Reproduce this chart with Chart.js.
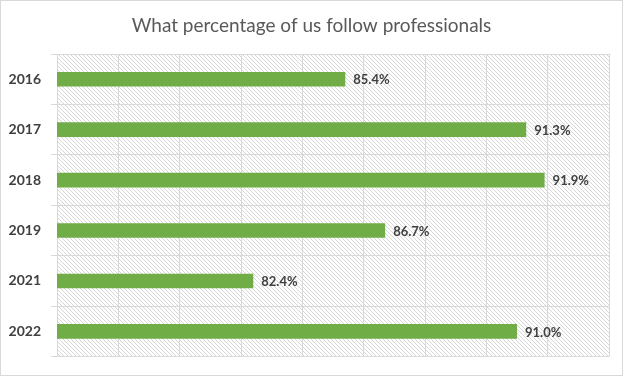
<!DOCTYPE html>
<html lang="en">
<head>
    <meta charset="UTF-8">
    <title>What percentage of us follow professionals</title>
    <style>
        html, body { margin: 0; padding: 0; background: white; }
        #wrap {
            position: relative;
            width: 621px;
            height: 374px;
            border: 1px solid #d9d9d9;
        }
    </style>
</head>
<body>
    <div id="wrap">
        <canvas id="myChart" width="621" height="374"></canvas>
    </div>

    <script src="https://cdn.jsdelivr.net/npm/chart.js"></script>
    <script>
        const years = ['2016', '2017', '2018', '2019', '2021', '2022'];
        const percentages = [85.4, 91.3, 91.9, 86.7, 82.4, 91.0];
        const axisMin = 76;
        const axisMax = 94;
        const axisStep = 2;
        const chartTitle = 'What percentage of us follow professionals';

        // Diagonal hatch used behind the bars
        function makeHatch() {
            const c = document.createElement('canvas');
            c.width = 4;
            c.height = 4;
            const g = c.getContext('2d');
            g.fillStyle = '#ffffff';
            g.fillRect(0, 0, 4, 4);
            g.strokeStyle = '#d6d6d6';
            g.lineWidth = 1;
            g.beginPath();
            g.moveTo(-1, -1); g.lineTo(5, 5);
            g.moveTo(-1, 3); g.lineTo(1, 5);
            g.moveTo(3, -1); g.lineTo(5, 1);
            g.stroke();
            return g.createPattern(c, 'repeat');
        }

        const hatchPlugin = {
            id: 'hatch',
            beforeDraw(chart) {
                const a = chart.chartArea;
                const ctx = chart.ctx;
                ctx.save();
                ctx.fillStyle = makeHatch();
                ctx.fillRect(a.left, a.top, a.right - a.left, a.bottom - a.top);
                ctx.restore();
            }
        };

        // Title centred on the whole canvas (built-in one centres on the padded box)
        const titlePlugin = {
            id: 'centredTitle',
            afterDraw(chart) {
                const ctx = chart.ctx;
                ctx.save();
                ctx.font = '19px Lato';
                ctx.fillStyle = '#595959';
                ctx.textAlign = 'center';
                ctx.textBaseline = 'middle';
                ctx.fillText(chartTitle, chart.width / 2, 24.5);
                ctx.restore();
            }
        };

        // Value labels at the end of each bar
        const valueLabels = {
            id: 'valueLabels',
            afterDatasetsDraw(chart) {
                const ctx = chart.ctx;
                const meta = chart.getDatasetMeta(0);
                ctx.save();
                ctx.font = 'bold 13px Lato';
                ctx.fillStyle = '#404040';
                ctx.textBaseline = 'middle';
                meta.data.forEach((bar, i) => {
                    ctx.fillText(percentages[i].toFixed(1) + '%', bar.x + 8, bar.y + 1);
                });
                ctx.restore();
            }
        };

        const ctx = document.getElementById('myChart').getContext('2d');
        new Chart(ctx, {
            type: 'bar',
            data: {
                labels: years,
                datasets: [{
                    data: percentages,
                    backgroundColor: '#70ad47',
                    barPercentage: 0.29,
                    categoryPercentage: 1.0
                }]
            },
            options: {
                indexAxis: 'y',
                responsive: false,
                animation: false,
                layout: {
                    padding: { left: 0, right: 13, top: 53, bottom: 13 }
                },
                scales: {
                    x: {
                        min: axisMin,
                        max: axisMax,
                        ticks: { display: false, stepSize: axisStep },
                        grid: { color: '#d9d9d9', drawTicks: false },
                        border: { display: false }
                    },
                    y: {
                        afterFit(scale) { scale.width = 56; },
                        ticks: {
                            color: '#404040',
                            font: { family: 'Lato', size: 14, weight: 'bold' },
                            padding: 10
                        },
                        grid: { color: '#d9d9d9', tickLength: 6 },
                        border: { color: '#d9d9d9' }
                    }
                },
                plugins: {
                    legend: { display: false },
                    tooltip: { enabled: false },
                    title: { display: false }
                }
            },
            plugins: [hatchPlugin, titlePlugin, valueLabels]
        });
    </script>
</body>
</html>
